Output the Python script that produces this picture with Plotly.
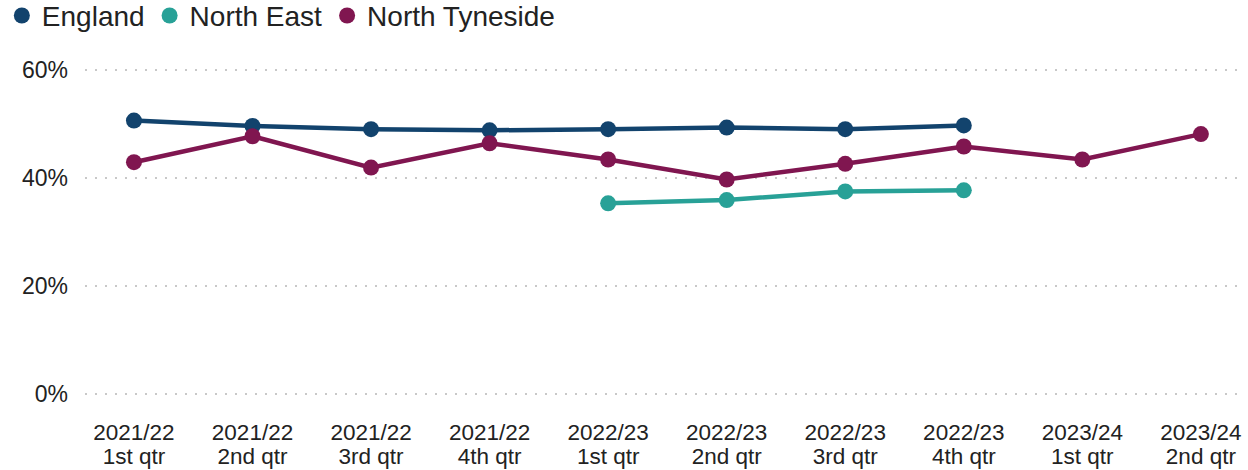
import plotly.graph_objects as go

categories = ["2021/22 1st qtr", "2021/22 2nd qtr", "2021/22 3rd qtr", "2021/22 4th qtr",
              "2022/23 1st qtr", "2022/23 2nd qtr", "2022/23 3rd qtr", "2022/23 4th qtr",
              "2023/24 1st qtr", "2023/24 2nd qtr"]
year_labels = ["2021/22", "2021/22", "2021/22", "2021/22", "2022/23",
               "2022/23", "2022/23", "2022/23", "2023/24", "2023/24"]
quarter_labels = ["1st qtr", "2nd qtr", "3rd qtr", "4th qtr", "1st qtr",
                  "2nd qtr", "3rd qtr", "4th qtr", "1st qtr", "2nd qtr"]

england = [50.6, 49.6, 49.0, 48.8, 49.0, 49.3, 49.0, 49.7, None, None]
north_east = [None, None, None, None, 35.3, 35.9, 37.5, 37.7, None, None]
north_tyneside = [42.9, 47.7, 41.9, 46.4, 43.4, 39.7, 42.6, 45.8, 43.4, 48.1]

y_ticks = [0, 20, 40, 60]
y_tick_labels = ["0%", "20%", "40%", "60%"]

series = [
    ("England", england, "#12436D"),
    ("North East", north_east, "#28A197"),
    ("North Tyneside", north_tyneside, "#801650"),
]

FONT = "Liberation Sans, Arial, sans-serif"
TEXT = "#222222"
xi = list(range(len(categories)))

fig = go.Figure()
for name, vals, color in series:
    fig.add_trace(go.Scatter(
        x=xi, y=vals, mode="lines+markers", name=name,
        customdata=categories,
        line=dict(color=color, width=4.5),
        marker=dict(color=color, size=16),
        connectgaps=False, showlegend=False,
        hovertemplate="%{customdata}: %{y:.1f}%<extra>" + name + "</extra>",
    ))
for name, vals, color in series:
    fig.add_trace(go.Scatter(
        x=[None], y=[None], mode="markers", name=name, xaxis="x2",
        marker=dict(color=color, size=20), showlegend=True, hoverinfo="skip",
    ))

xrange = [-0.413, 9.33]
fig.update_layout(
    width=1248, height=470,
    margin=dict(l=85, r=8, t=67, b=73, autoexpand=False),
    paper_bgcolor="white", plot_bgcolor="white",
    font=dict(family=FONT, color=TEXT, size=22),
    legend=dict(
        orientation="h", x=-0.072, xanchor="left", y=1.231, yanchor="top",
        yref="paper", xref="paper",
        font=dict(size=28, color=TEXT), itemwidth=30,
        tracegroupgap=0, traceorder="normal",
        bgcolor="rgba(0,0,0,0)",
    ),
    xaxis=dict(
        range=xrange, tickmode="array", tickvals=xi, ticktext=year_labels,
        showgrid=False, zeroline=False, showline=False, ticks="",
        tickfont=dict(size=22.5), ticklabelstandoff=19, automargin=False,
    ),
    xaxis2=dict(
        range=xrange, overlaying="x", anchor="y", side="bottom",
        tickmode="array", tickvals=xi, ticktext=quarter_labels,
        showgrid=False, zeroline=False, showline=False, ticks="",
        tickfont=dict(size=22.5), ticklabelstandoff=43, automargin=False,
    ),
    yaxis=dict(
        range=[-0.5, 60.5], tickmode="array", tickvals=y_ticks, ticktext=y_tick_labels,
        showgrid=True, gridcolor="#c8c8c8", gridwidth=2, griddash="2px,8px",
        zeroline=False, showline=False, ticks="",
        tickfont=dict(size=23), ticklabelstandoff=16, automargin=False,
    ),
)

fig.write_html("out.html")
